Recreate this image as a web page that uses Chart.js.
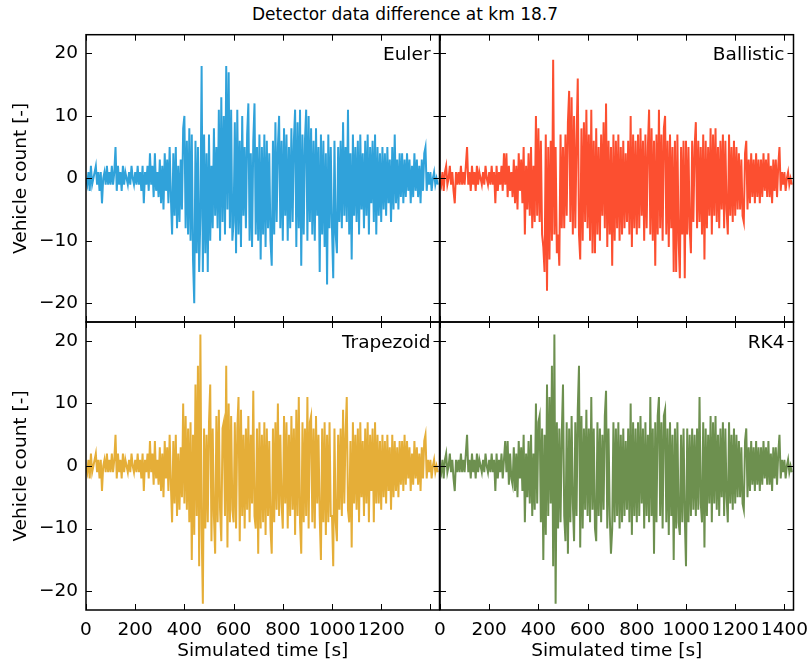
<!DOCTYPE html>
<html>
<head>
<meta charset="utf-8">
<script src="https://cdn.jsdelivr.net/npm/chart.js@4.4.1/dist/chart.umd.min.js"></script>
<style>
  body { margin: 0; background: #fff; }
  #figura { position: relative; width: 810px; height: 662px; font-family: "DejaVu Sans"; }
  #figura canvas { position: absolute; left: 0; top: 0; }
  #titulo { position: absolute; left: 0; top: 4px; width: 810px; text-align: center; font-size: 17px; color: #000; }
</style>
</head>
<body>
<div id="figura">
  <div id="titulo">Detector data difference at km 18.7</div>
  <canvas id="panelEuler" width="810" height="662"></canvas>
  <canvas id="panelBallistic" width="810" height="662"></canvas>
  <canvas id="panelTrapezoid" width="810" height="662"></canvas>
  <canvas id="panelRK4" width="810" height="662"></canvas>
</div>
<script>
// tiempo simulado cada 5 s (0 .. 1430)
const tiempos = Array.from({ length: 287 }, (_, i) => i * 5)
const T_MAX = 1437
const marcasX = [0, 200, 400, 600, 800, 1000, 1200, 1400]
const marcasY = [-20, -10, 0, 10, 20]

// diferencia de conteo, una fila = 100 s
const euler = [
  0,-1,1,-2,2,-1,0,1,2,-1,1,-2,1,-4,0,1,-1,2,-1,1,
  -1,2,-1,1,5,-2,2,-1,1,-2,2,-1,1,0,-1,1,-1,2,0,-1,
  1,-1,2,-1,1,-2,2,-4,1,-1,2,-2,4,-1,2,-3,4,-2,1,-3,
  3,-4,2,-5,4,-2,3,-4,5,-3,-9,4,-6,5,-8,2,-7,3,-5,8,
  10,-8,6,-9,8,-10,7,-13,-20,6,-12,5,-15,-6,18,-15,7,-12,4,-15,
  7,-10,2,-8,8,-6,5,-8,11,-10,13,-7,10,-9,18,-5,17,-8,11,-10,
  -7,9,-12,11,-9,6,-11,10,-6,5,-8,7,12,-10,4,-11,6,12,-9,5,
  -10,7,-13,5,-9,7,-11,6,-8,4,-10,-14,6,-9,9,-7,5,10,-8,6,
  -10,8,-6,7,-10,5,-8,8,-7,6,11,-11,9,-8,11,-14,7,-9,6,11,
  -10,10,-7,8,-9,6,-10,8,-6,5,-15,7,-9,6,-11,4,-17,7,-8,5,
  -8,-16,6,-9,-12,5,-7,6,-8,9,-6,5,-7,11,-9,4,-13,7,-6,5,
  -7,6,-9,7,-5,4,-8,6,-6,7,-9,5,-4,6,-7,7,-9,5,-6,4,
  -7,5,-5,4,-6,5,-4,3,-7,5,-5,7,-4,3,-5,4,-3,4,-4,3,
  -3,4,-2,3,-4,2,-3,4,-2,3,-3,2,-4,3,-2,4,5,-2,1,-1,
  1,-2,0,1,-1,0,-1
]

const ballistic = [
  0,-1,1,-2,1,2,-1,0,2,-1,1,-2,-4,1,-1,1,-1,2,-1,1,
  -1,2,5,-1,1,-2,2,-1,1,-2,2,-1,1,0,-1,1,-1,2,0,-1,
  1,-1,2,-1,1,-4,2,-2,1,-1,2,-2,4,-1,4,-3,2,-2,1,-3,
  3,-4,2,-5,4,-2,3,-4,5,-9,2,-5,4,-6,5,-8,2,-7,10,-6,
  8,-7,6,-9,-11,-15,7,-18,5,-13,6,-10,19,-9,5,-12,-9,-14,7,-8,
  5,-8,7,-6,9,14,-7,13,-9,10,-8,6,16,-9,-13,8,-10,9,-7,11,
  -8,7,-10,11,-12,6,-12,8,-9,5,-10,7,-6,9,-8,12,-11,6,-9,5,
  -14,7,-10,6,-8,7,-10,5,-9,6,-8,4,-7,6,-9,10,-11,7,-8,6,
  -9,7,-8,8,-6,6,-10,7,-8,5,11,-9,8,-10,6,-14,7,-9,11,-8,
  7,-10,8,10,-9,6,-11,7,-8,5,-15,6,-15,7,-10,-16,5,-9,6,-16,
  6,-9,5,-8,-12,6,-7,5,9,-8,6,-7,5,-9,7,-13,6,-8,5,-6,
  8,-9,7,-6,8,-7,5,-8,6,-5,7,-8,6,-5,-9,7,-6,5,-7,6,
  -6,5,-5,4,-5,3,-6,-7,4,6,-5,3,-4,4,-3,3,-4,4,-3,3,
  -4,3,-3,4,-2,3,-3,4,-3,2,-4,3,-2,3,-3,2,5,-2,1,-1,
  1,-2,0,1,-1,0,-1
]

const trapezoid = [
  0,-1,1,-2,2,-1,0,1,2,-1,1,-2,1,-4,0,1,-1,2,-1,1,
  -1,2,-1,1,5,-2,2,-1,1,-2,2,-1,1,0,-1,1,-1,2,0,-1,
  1,-1,2,-1,1,-2,2,-4,1,-1,2,-2,4,-1,2,-3,4,-2,1,-3,
  3,-4,2,-5,4,-2,3,-4,5,-3,-9,4,-6,5,-8,2,-7,3,-5,10,
  -6,8,-7,6,-9,7,-15,5,-11,13,-8,16,-16,21,-10,-22,6,-10,5,-9,
  7,13,-12,6,-8,-14,8,-9,9,-7,-12,6,7,-8,16,-13,10,-9,8,-7,
  -9,7,-10,6,11,-12,9,-8,5,-10,6,-7,8,-9,5,-6,12,-8,-10,6,
  -14,7,-10,5,-9,7,-11,6,-8,4,-10,-14,6,-9,7,-7,10,-8,5,-6,
  -10,8,-6,7,-10,5,-8,8,-7,6,-11,9,-8,11,-9,-14,7,-9,6,-8,
  11,-10,7,8,-9,6,-10,8,-6,5,-8,-15,6,-9,7,-11,5,-9,7,-8,
  -8,-16,6,-9,-12,5,-7,6,-8,9,-6,5,11,-7,-9,4,-13,7,-6,5,
  -7,6,-9,7,-5,4,-8,6,-6,7,-9,5,-4,6,-9,7,-6,5,-6,4,
  -7,5,-5,4,-6,5,-4,3,-7,5,-5,4,-4,3,-5,4,-3,4,-4,5,
  -3,4,-2,3,-4,2,-3,4,-2,3,-3,2,-4,3,-2,4,5,-2,1,-1,
  1,-2,0,1,-1,0,-1
]

const rk4 = [
  0,-1,1,-2,1,2,-1,0,2,-1,1,-2,-4,1,-1,1,-1,2,-1,1,
  -1,2,5,-1,1,-2,2,-1,1,-2,2,-1,1,0,-1,1,-1,2,0,-1,
  1,-1,2,-1,1,-4,2,-2,1,-1,2,-2,1,4,-1,4,-3,2,-2,-3,
  3,-4,2,-5,4,-2,3,-4,5,-9,2,-5,4,-6,5,-8,2,-7,10,-6,
  7,8,-9,6,-15,5,-11,13,-8,11,-6,16,-16,21,-22,7,-10,6,-9,5,
  13,-8,-12,7,-14,6,-9,8,-6,-12,7,-8,9,16,-13,8,-10,6,-7,9,
  -8,6,-9,11,-7,6,-10,-12,7,-8,6,-9,5,-7,8,12,-10,6,-8,-14,
  -10,7,-9,6,-8,7,-10,5,-9,6,-8,4,-7,6,-9,10,-11,7,-8,6,
  -9,7,-8,8,-6,6,-10,7,-8,5,-9,11,-8,6,-14,7,-9,8,11,-8,
  7,-10,8,9,-9,6,-11,7,-8,5,-15,6,-10,7,-9,-11,5,-9,6,-8,
  -16,6,-9,5,-8,6,-7,5,-8,6,-7,11,-6,-9,7,-13,6,-8,5,-6,
  8,-9,7,-6,8,-7,5,-8,6,-5,7,-8,6,-5,-9,7,-6,5,-7,6,
  -6,5,-5,4,-5,3,-6,-7,4,6,-5,3,-4,4,-3,3,-4,4,-3,3,
  -4,3,-3,4,-2,3,-3,4,-3,2,-4,3,-2,3,-3,2,5,-2,1,-1,
  1,-2,0,1,-1,0,-1
]

const fuente = { family: "DejaVu Sans", size: 18.5 }

// marco negro, marcas hacia adentro en los 4 lados y nombre del método
const marco = {
  id: 'marco',
  afterDatasetsDraw(chart, args, opts) {
    const { ctx, chartArea: a, scales: { x, y } } = chart
    ctx.save()
    ctx.strokeStyle = '#000'
    ctx.lineWidth = 1
    ctx.beginPath()
    marcasX.forEach(v => {
      const px = Math.round(x.getPixelForValue(v)) + 0.5
      ctx.moveTo(px, a.top); ctx.lineTo(px, a.top + 6)
      ctx.moveTo(px, a.bottom); ctx.lineTo(px, a.bottom - 6)
    })
    marcasY.forEach(v => {
      const py = Math.round(y.getPixelForValue(v)) + 0.5
      ctx.moveTo(a.left, py); ctx.lineTo(a.left + 6, py)
      ctx.moveTo(a.right, py); ctx.lineTo(a.right - 6, py)
    })
    ctx.stroke()
    ctx.lineWidth = 1.5
    ctx.strokeRect(a.left, a.top, a.right - a.left, a.bottom - a.top)
    ctx.font = '18.5px "DejaVu Sans"'
    ctx.textAlign = 'right'
    ctx.fillStyle = '#000'
    ctx.fillText(opts.texto, a.right - 9, a.top + 25.5)
    ctx.restore()
  }
}

function crearPanel(idCanvas, nombre, valores, color, conf) {
  const puntos = valores.map((v, i) => ({ x: tiempos[i], y: v }))
  return new Chart(document.getElementById(idCanvas), {
    type: 'line',
    data: {
      datasets: [{
        label: nombre,
        data: puntos,
        borderColor: color,
        borderWidth: 2,
        pointRadius: 0,
        tension: 0
      }]
    },
    options: {
      responsive: false,
      animation: false,
      devicePixelRatio: 1,
      layout: { autoPadding: false, padding: conf.padding },
      plugins: {
        legend: { display: false },
        tooltip: { enabled: false },
        marco: { texto: nombre }
      },
      scales: {
        x: {
          type: 'linear',
          min: 0,
          max: T_MAX,
          grid: { display: false, drawTicks: false },
          border: { display: false },
          ticks: {
            display: conf.conX,
            autoSkip: false,
            maxRotation: 0,
            padding: 9,
            font: fuente,
            color: '#000',
            callback: v => (conf.sin1400 && v === 1400) ? '' : String(v)
          },
          afterBuildTicks: s => { s.ticks = marcasX.map(v => ({ value: v })) },
          title: { display: conf.conX, text: 'Simulated time [s]', font: fuente, color: '#000', padding: { top: 0, bottom: 0 } },
          afterFit: s => { s.height = conf.conX ? 52 : 0; s.paddingLeft = 0; s.paddingRight = 0 }
        },
        y: {
          min: -23,
          max: 23,
          grid: { display: false, drawTicks: false },
          border: { display: false },
          ticks: {
            display: conf.conY,
            padding: 8,
            font: fuente,
            color: '#000',
            callback: v => v < 0 ? '\u2212' + Math.abs(v) : String(v)
          },
          afterBuildTicks: s => { s.ticks = marcasY.map(v => ({ value: v })) },
          title: { display: conf.conY, text: 'Vehicle count [-]', font: fuente, color: '#000', padding: { top: 10, bottom: 0 } },
          afterFit: s => { s.width = conf.conY ? 86 : 0; s.paddingTop = 0; s.paddingBottom = 0 }
        }
      }
    },
    plugins: [marco]
  })
}

crearPanel('panelEuler', 'Euler', euler, '#30a2da',
  { padding: { left: 0, right: 370.5, top: 34.7, bottom: 340 }, conX: false, conY: true, sin1400: true })
crearPanel('panelBallistic', 'Ballistic', ballistic, '#fc4f30',
  { padding: { left: 440, right: 16.5, top: 34.7, bottom: 340 }, conX: false, conY: false, sin1400: false })
crearPanel('panelTrapezoid', 'Trapezoid', trapezoid, '#e5ae38',
  { padding: { left: 0, right: 370.5, top: 322, bottom: 0 }, conX: true, conY: true, sin1400: true })
crearPanel('panelRK4', 'RK4', rk4, '#6d904f',
  { padding: { left: 440, right: 16.5, top: 322, bottom: 0 }, conX: true, conY: false, sin1400: false })
</script>
</body>
</html>
